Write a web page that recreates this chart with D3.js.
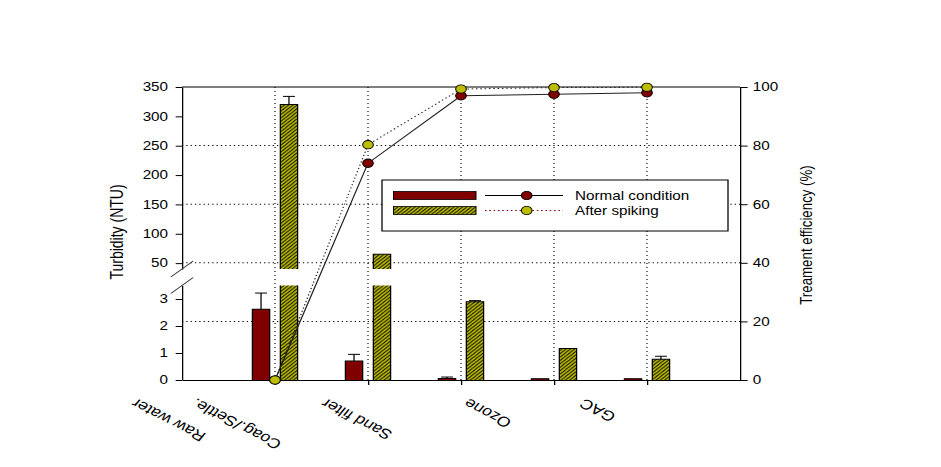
<!DOCTYPE html>
<html>
<head>
<meta charset="utf-8">
<script src="https://cdn.jsdelivr.net/npm/d3@7"></script>
<style>
  body { margin: 0; background: #fff; }
  text { font-family: Arial, "Liberation Sans", sans-serif; fill: #000; }
</style>
</head>
<body>
<div id="myChart"></div>
<script>
// data
let stages = ["Raw water", "Coag./Settle.", "Sand filter", "Ozone", "GAC"];
let turbNormal = [2.62, 0.70, 0.06, 0.05, 0.05];
let turbNormalErr = [0.6, 0.25, 0.05, 0, 0];
let turbSpiked = [320, 65, 2.9, 1.17, 0.77];
let turbSpikedErr = [14, 0, 0.04, 0, 0.11];
let effNormal = [0, 74, 97, 97.5, 98];
let effSpiked = [0, 80.3, 99.3, 99.8, 99.9];
let leftTicksHigh = [50, 100, 150, 200, 250, 300, 350];
let leftTicksLow = [0, 1, 2, 3];
let rightTicks = [0, 20, 40, 60, 80, 100];
let legendNames = ["Normal condition", "After spiking"];

// the original picture is stretched sideways, so draw in a narrower box and stretch it
let stretch = 1.27;
let W = 941, H = 467;
let innerW = W / stretch;

let margin = {top: 87, left: 182 / stretch},
    width = (740 - 182) / stretch,
    height = 293;

let red = "#800000", olive = "#bcbc00";

let svg = d3.select("#myChart")
  .append("svg")
    .attr("width", W)
    .attr("height", H)
    .attr("viewBox", "0 0 " + innerW + " " + H)
    .attr("preserveAspectRatio", "none");

// hatch for the spiked bars
let pat = svg.append("defs").append("pattern")
    .attr("id", "hatch")
    .attr("patternUnits", "userSpaceOnUse")
    .attr("width", 3.4).attr("height", 3.4);
pat.append("rect").attr("width", 3.4).attr("height", 3.4).attr("fill", olive);
pat.append("path")
    .attr("d", "M-1,1 l2,-2 M0,3.4 l3.4,-3.4 M2.4,4.4 l2,-2")
    .attr("stroke", "#000").attr("stroke-width", 0.8);

let g = svg.append("g")
    .attr("transform", "translate(" + margin.left + "," + margin.top + ")");

// scales
let x = d3.scaleLinear().domain([0, stages.length + 1]).range([0, width]);
let xc = i => x(i + 1);

let breakLow = 3.5, breakHigh = 40;
let yLow = d3.scaleLinear().domain([0, breakLow]).range([height, height - breakLow * 27]);
let yHigh = d3.scaleLinear().domain([breakHigh, 350]).range([182, 0]);
let yT = v => v <= breakLow ? yLow(v) : yHigh(v);
let yR = d3.scaleLinear().domain([0, 100]).range([height, 0]);

// grid
g.append("g").selectAll("line")
  .data(rightTicks.filter(d => d > 0 && d < 100))
  .enter().append("line")
    .attr("x1", 0).attr("x2", width)
    .attr("y1", d => yR(d)).attr("y2", d => yR(d))
    .attr("stroke", "#000").attr("stroke-width", 1)
    .attr("stroke-dasharray", "1,2.4");

g.append("g").selectAll("line")
  .data(stages)
  .enter().append("line")
    .attr("x1", (d, i) => xc(i)).attr("x2", (d, i) => xc(i))
    .attr("y1", 0).attr("y2", height)
    .attr("stroke", "#000").attr("stroke-width", 0.9)
    .attr("stroke-dasharray", "1,3");

// bars (a bar taller than the lower panel is cut at the axis break)
let barW = 13.6, gap = 4.2;

function barPieces(v) {
  if (v <= breakLow) return [{y0: height, y1: yLow(v), top: true}];
  return [
    {y0: height, y1: yLow(breakLow), top: false},
    {y0: yHigh(breakHigh), y1: yHigh(v), top: true}
  ];
}

function drawBars(vals, errs, fill, side) {
  let grp = g.append("g");
  vals.forEach(function(v, i) {
    let x0 = side < 0 ? xc(i) - gap - barW : xc(i) + gap;
    let x1 = x0 + barW;
    barPieces(v).forEach(function(p) {
      grp.append("rect")
        .attr("x", x0).attr("y", p.y1)
        .attr("width", barW).attr("height", p.y0 - p.y1)
        .attr("fill", fill);
      let d = p.top
        ? "M" + x0 + "," + p.y0 + "V" + p.y1 + "H" + x1 + "V" + p.y0
        : "M" + x0 + "," + p.y0 + "V" + p.y1 + "M" + x1 + "," + p.y1 + "V" + p.y0;
      grp.append("path")
        .attr("d", d)
        .attr("fill", "none")
        .attr("stroke", "#000")
        .attr("stroke-width", 1);
    });
    if (errs[i] > 0) {
      let cx = x0 + barW / 2;
      grp.append("line")
        .attr("x1", cx).attr("x2", cx)
        .attr("y1", yT(v)).attr("y2", yT(v + errs[i]))
        .attr("stroke", "#000");
      grp.append("line")
        .attr("x1", cx - 4.7).attr("x2", cx + 4.7)
        .attr("y1", yT(v + errs[i])).attr("y2", yT(v + errs[i]))
        .attr("stroke", "#000");
    }
  });
}

drawBars(turbNormal, turbNormalErr, red, -1);
drawBars(turbSpiked, turbSpikedErr, "url(#hatch)", 1);

// frame and axes
g.append("line")
    .attr("x1", 0).attr("x2", width).attr("y1", 0).attr("y2", 0)
    .attr("stroke", "#000");

g.append("g")
    .call(d3.axisLeft(yHigh).tickValues(leftTicksHigh).tickSize(5).tickSizeOuter(0).tickPadding(6));
g.append("g")
    .call(d3.axisLeft(yLow).tickValues(leftTicksLow).tickFormat(d3.format("d")).tickSize(5).tickSizeOuter(0).tickPadding(6));

g.append("g")
    .attr("transform", "translate(" + width + ",0)")
    .call(d3.axisRight(yR).tickValues(rightTicks).tickSize(6).tickSizeOuter(0).tickPadding(4));

g.append("g")
    .attr("transform", "translate(0," + height + ")")
    .call(d3.axisBottom(x).tickValues(stages.map((d, i) => i + 1)).tickSize(5).tickSizeOuter(0).tickFormat(""));

g.selectAll(".tick text").attr("font-size", 12).attr("font-family", "Arial, 'Liberation Sans', sans-serif");
g.selectAll(".domain, .tick line").attr("stroke", "#000");

// axis break marks
[yHigh(breakHigh), yLow(breakLow)].forEach(function(yy) {
  g.append("line")
    .attr("x1", -8.8).attr("x2", 8.8)
    .attr("y1", yy + 8).attr("y2", yy - 8)
    .attr("stroke", "#333").attr("stroke-width", 1);
});

// category labels, upside down like the original
let labelNudge = [-109, -135, -106, -67, -49];
g.append("g").selectAll("text")
  .data(stages)
  .enter().append("text")
    .attr("transform", (d, i) => "translate(" + (xc(i) + labelNudge[i]) + "," + (height + 18) + ") rotate(213)")
    .attr("text-anchor", "end")
    .attr("font-size", 14)
    .text(d => d);

// axis titles
svg.append("text")
    .attr("transform", "translate(" + (123 / stretch) + "," + 232 + ") rotate(-90)")
    .attr("text-anchor", "middle")
    .attr("font-size", 14)
    .text("Turbidity (NTU)");

svg.append("text")
    .attr("transform", "translate(" + (812 / stretch) + "," + 235 + ") rotate(-90)")
    .attr("text-anchor", "middle")
    .attr("font-size", 13.3)
    .text("Treament efficiency (%)");

// efficiency lines
let line = d3.line().x((d, i) => xc(i)).y(d => yR(d));

g.append("path")
    .datum(effNormal)
    .attr("d", line)
    .attr("fill", "none")
    .attr("stroke", "#222")
    .attr("stroke-width", 1);

g.append("path")
    .datum(effSpiked)
    .attr("d", line)
    .attr("fill", "none")
    .attr("stroke", "#222")
    .attr("stroke-width", 1)
    .attr("stroke-dasharray", "1.2,2.2");

g.append("g").selectAll("circle")
  .data(effNormal)
  .enter().append("circle")
    .attr("cx", (d, i) => xc(i)).attr("cy", d => yR(d))
    .attr("r", 4.2)
    .attr("fill", red).attr("stroke", "#000").attr("stroke-width", 0.8);

g.append("g").selectAll("circle")
  .data(effSpiked)
  .enter().append("circle")
    .attr("cx", (d, i) => xc(i)).attr("cy", d => yR(d))
    .attr("r", 4.2)
    .attr("fill", olive).attr("stroke", "#000").attr("stroke-width", 0.8);

// legend
let lg = svg.append("g");
lg.append("rect")
    .attr("x", 382 / stretch).attr("y", 180)
    .attr("width", (728 - 382) / stretch).attr("height", 51)
    .attr("fill", "#fff").attr("stroke", "#000");

let fills = [red, "url(#hatch)"];
let circleFills = [red, olive];
legendNames.forEach(function(name, i) {
  let yy = 195.5 + i * 15;
  lg.append("rect")
    .attr("x", 393.5 / stretch).attr("y", yy - 4)
    .attr("width", (476 - 393.5) / stretch).attr("height", 8)
    .attr("fill", fills[i]).attr("stroke", "#000").attr("stroke-width", 0.8);
  lg.append("line")
    .attr("x1", 485 / stretch).attr("x2", 563 / stretch)
    .attr("y1", yy).attr("y2", yy)
    .attr("stroke", i == 0 ? "#000" : red)
    .attr("stroke-dasharray", i == 0 ? null : "1.2,2.2");
  lg.append("circle")
    .attr("cx", 526.7 / stretch).attr("cy", yy)
    .attr("r", 4.2)
    .attr("fill", circleFills[i]).attr("stroke", "#000").attr("stroke-width", 0.8);
  lg.append("text")
    .attr("x", 575 / stretch).attr("y", yy + 4.3)
    .attr("font-size", 12)
    .text(name);
});
</script>
</body>
</html>
